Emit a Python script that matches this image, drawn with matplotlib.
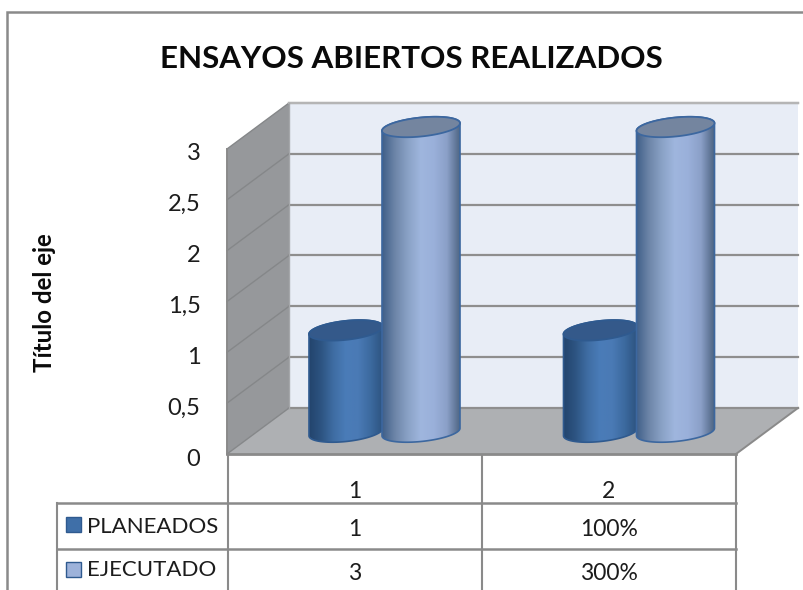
import numpy as np
import matplotlib
matplotlib.use("Agg")
import matplotlib.pyplot as plt
from matplotlib.patches import Polygon, Rectangle
from matplotlib.colors import LinearSegmentedColormap

# ---- data ----
title = "ENSAYOS ABIERTOS REALIZADOS"
y_title = "Título del eje"
categories = ["1", "2"]
series_names = ["PLANEADOS", "EJECUTADO"]
planeados = [1, 1]
ejecutado = [3, 3]
table_planeados = ["1", "100%"]
table_ejecutado = ["3", "300%"]
y_ticks = [0, 0.5, 1, 1.5, 2, 2.5, 3]
y_tick_labels = ["0", "0,5", "1", "1,5", "2", "2,5", "3"]

# ---- style ----
W, H = 804, 590
FONT = "Lato"
TXT = "#1c1c1c"
LINE = "#8a8a8a"
GRID = "#8e8e8e"
PX_PER_UNIT = 101.67
BASE_PX = 432.0      # pixel row of value 0 at the cylinder base centre
WALL_BASE = 24 / PX_PER_UNIT      # back wall floor, above the base centre
FRONT_BASE = -22 / PX_PER_UNIT    # front floor edge
LABEL_SHIFT = -5 / PX_PER_UNIT    # y tick label offset
GROUP_X = [355.0, 609.5]
OFFSETS = [-9.0, 66.0]
RADIUS = [37.0, 39.0]
ELL_B = 9.5 / PX_PER_UNIT
ELL_TILT = 3.8 / PX_PER_UNIT

cmaps = [
    LinearSegmentedColormap.from_list("p", ["#23446c", "#2d5482", "#3f6da3", "#4a7cb8", "#4a7ab5", "#3c6a9f", "#2d5380"]),
    LinearSegmentedColormap.from_list("e", ["#3f5f88", "#6d85a8", "#8aa2c6", "#9fb6de", "#9ab0da", "#8ba0c8", "#4f6684"]),
]
top_colors = ["#34598a", "#74859f"]
edge_colors = ["#2f5a8f", "#3c679f"]
key_colors = ["#3f6fa8", "#9db2da"]

fig = plt.figure(figsize=(W / 100, H / 100), dpi=100, facecolor="white")

# pixel-space axes for the frame and table
px = fig.add_axes([0, 0, 1, 1], zorder=1)
px.set_xlim(0, W)
px.set_ylim(H, 0)
px.axis("off")

# value axes: x in pixels, y in data units
ax = fig.add_axes([0, 0, 1, 1], zorder=2)
ax.patch.set_alpha(0)
ax.set_xlim(0, W)
ax.set_ylim((BASE_PX - H) / PX_PER_UNIT, BASE_PX / PX_PER_UNIT)
ax.axis("off")

# frame
px.plot([7, 7, W], [H, 12, 12], color=LINE, lw=1.8, solid_joinstyle="miter")

# walls and floor
BX0, BX1, FX0, FX1 = 289, 798, 227, 736
top = max(y_ticks)
ax.add_patch(Polygon([(BX0, WALL_BASE), (BX1, WALL_BASE), (BX1, WALL_BASE + top), (BX0, WALL_BASE + top)],
                     closed=True, fc="#e8edf6", ec="none", zorder=1))
ax.add_patch(Polygon([(FX0, FRONT_BASE), (BX0, WALL_BASE), (BX0, WALL_BASE + top), (FX0, FRONT_BASE + top)],
                     closed=True, fc="#96989b", ec="none", zorder=1))
ax.add_patch(Polygon([(FX0, FRONT_BASE), (BX0, WALL_BASE), (BX1, WALL_BASE), (FX1, FRONT_BASE)],
                     closed=True, fc="#aeb0b3", ec="none", zorder=1))
for v in y_ticks:
    ax.plot([BX0, BX1], [WALL_BASE + v] * 2, color=GRID, lw=1.6, zorder=2)
    ax.plot([FX0, BX0], [FRONT_BASE + v, WALL_BASE + v], color="#858789", lw=1.0, zorder=2)
ax.plot([BX0, BX1], [WALL_BASE + top] * 2, color="#b5b5b5", lw=1.6, zorder=2)
ax.plot([FX0, FX0], [FRONT_BASE, FRONT_BASE + top], color=LINE, lw=1.4, zorder=2)
ax.plot([BX0, BX0], [WALL_BASE, WALL_BASE + top], color="#a5a7aa", lw=1.0, zorder=2)
ax.plot([FX1, BX1], [FRONT_BASE, WALL_BASE], color=LINE, lw=1.4, zorder=2)
ax.plot([FX0, FX1], [FRONT_BASE, FRONT_BASE], color=LINE, lw=2.0, zorder=2)


def ellipse(cx, cy, a, t):
    return np.column_stack([cx + a * np.cos(t), cy + ELL_B * np.sin(t) + ELL_TILT * np.cos(t)])


def cylinder(cx, a, value, cmap, top_c, edge_c, z):
    lower = ellipse(cx, 0.0, a, np.linspace(0, -np.pi, 80))  # right to left below
    upper = ellipse(cx, value, a, np.linspace(np.pi, 0, 80))
    body = Polygon(np.vstack([lower, upper]), closed=True, fc="none", ec="none",
                   transform=ax.transData, zorder=z)
    ax.add_patch(body)
    grad = np.linspace(0, 1, 256).reshape(1, -1)
    im = ax.imshow(grad, cmap=cmap, aspect="auto", interpolation="bilinear",
                   extent=(cx - a, cx + a, -0.3, value + 0.3), zorder=z)
    im.set_clip_path(body)
    ax.add_patch(Polygon(np.vstack([lower, upper]), closed=True, fc="none", ec=edge_c, lw=1.2, zorder=z + 0.1))
    full = ellipse(cx, value, a, np.linspace(0, 2 * np.pi, 160))
    ax.add_patch(Polygon(full, closed=True, fc=top_c, ec=edge_c, lw=1.3, zorder=z + 0.2))


for i, g in enumerate(GROUP_X):
    cylinder(g + OFFSETS[0], RADIUS[0], planeados[i], cmaps[0], top_colors[0], edge_colors[0], 3 + i)
    cylinder(g + OFFSETS[1], RADIUS[1], ejecutado[i], cmaps[1], top_colors[1], edge_colors[1], 3.5 + i)

ax.set_xlim(0, W)
ax.set_ylim((BASE_PX - H) / PX_PER_UNIT, BASE_PX / PX_PER_UNIT)

# y tick labels
for v, lab in zip(y_ticks, y_tick_labels):
    ax.text(200.5, FRONT_BASE + LABEL_SHIFT + v, lab, ha="right", va="center", fontsize=17, family=FONT, color=TXT, zorder=6)

# titles
px.text(411, 59, title, ha="center", va="center", fontsize=22.6, fontweight="bold", family=FONT, color="#0a0a0a")
px.text(45, 302.5, y_title, ha="center", va="center", rotation=90, fontsize=17.3, fontweight="bold", family=FONT, color="#0a0a0a")

# data table
col_x = [57, 228, 482, 736]
row_y = [454, 503, 549, H]
for x, y0 in zip(col_x, [row_y[1], row_y[0], row_y[0], row_y[0]]):
    px.plot([x, x], [y0, H], color=LINE, lw=1.5)
for y in row_y[1:3]:
    px.plot([col_x[0], col_x[3]], [y, y], color=LINE, lw=1.8)

cat_x = [355, 609]
for x, c in zip(cat_x, categories):
    px.text(x, 492, c, ha="center", va="center", fontsize=16.5, family=FONT, color=TXT)
for y, ny, ky, row, name, key in zip([529, 574], [527, 570], [517, 562],
                                     [table_planeados, table_ejecutado], series_names, key_colors):
    for x, s in zip(cat_x, row):
        px.text(x, y, s, ha="center", va="center", fontsize=16.5, family=FONT, color=TXT)
    px.add_patch(Rectangle((66, ky), 15, 15, fc=key, ec="#2f5a8f", lw=1.0))
    px.text(87, ny, name, ha="left", va="center", fontsize=16, family=FONT, color=TXT)

fig.savefig("out.png", dpi=100, facecolor="white")
